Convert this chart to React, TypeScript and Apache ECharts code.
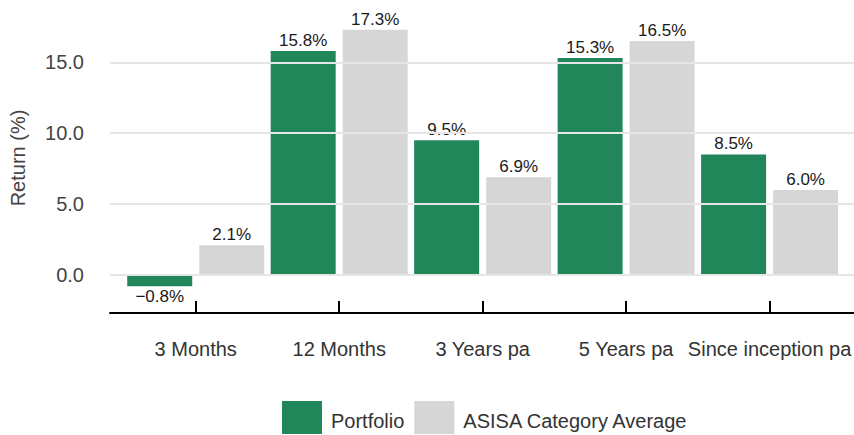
import React, { useEffect, useRef } from "react";
import * as echarts from "echarts";

const categories = ["3 Months", "12 Months", "3 Years pa", "5 Years pa", "Since inception pa"];
const portfolio = [-0.8, 15.8, 9.5, 15.3, 8.5];
const asisa = [2.1, 17.3, 6.9, 16.5, 6.0];
const yTicks = [0, 5, 10, 15];
const seriesNames = ["Portfolio", "ASISA Category Average"];

const Y_MIN = -2.68;
const Y_MAX = 19.18;
const FONT = "'Liberation Sans', Arial, Helvetica, sans-serif";
const GREEN = "#21865a";
const GREY = "#d6d6d6";

const fmt = (v: number) => (v < 0 ? "\u2212" + Math.abs(v).toFixed(1) : v.toFixed(1)) + "%";

const toData = (arr: number[]) =>
  arr.map((v) => ({
    value: v,
    label: { position: v < 0 ? "bottom" : "top" },
  }));

export default function App() {
  const ref = useRef<HTMLDivElement>(null);
  useEffect(() => {
    document.body.style.margin = "0";
    if (!ref.current) return;
    const chart = echarts.init(ref.current, undefined, { renderer: "svg" });
    const barLabel = {
      show: true,
      formatter: (p: any) => fmt(p.value),
      color: "#1a1a1a",
      fontSize: 17,
      fontFamily: FONT,
      distance: 2,
    };
    chart.setOption({
      animation: false,
      textStyle: { fontFamily: FONT },
      grid: [
        { left: 124, right: 9.5, top: 3, bottom: 122 },
        { left: 109, right: 0, top: 3, bottom: 122 },
      ],
      legend: {
        data: seriesNames,
        left: 282,
        top: 401,
        padding: 0,
        itemWidth: 40,
        itemHeight: 33,
        itemGap: 10,
        icon: "rect",
        formatter: "{a|{name}}",
        textStyle: {
          fontSize: 20,
          color: "#333",
          fontFamily: FONT,
          rich: { a: { fontSize: 20, color: "#333", fontFamily: FONT, padding: [6, 0, 0, 4] } },
        },
      },
      xAxis: [
        {
          type: "category",
          gridIndex: 0,
          data: categories,
          axisLine: { show: false, onZero: false },
          axisTick: { show: true, inside: true, length: 12, alignWithLabel: true, lineStyle: { color: "#000", width: 2 } },
          axisLabel: { interval: 0, margin: 26, fontSize: 20, color: "#333", fontFamily: FONT },
          splitLine: { show: false },
        },
        {
          type: "value",
          gridIndex: 1,
          min: 0,
          max: 1,
          axisLine: { show: true, onZero: false, lineStyle: { color: "#000", width: 2 } },
          axisTick: { show: false },
          axisLabel: { show: false },
          splitLine: { show: false },
        },
      ],
      yAxis: [
        {
          type: "value",
          gridIndex: 0,
          min: Y_MIN,
          max: Y_MAX,
          show: false,
          splitLine: { show: false },
        },
        {
          type: "value",
          gridIndex: 1,
          min: Y_MIN,
          max: Y_MAX,
          name: "Return (%)",
          nameLocation: "middle",
          nameGap: 82,
          nameTextStyle: { fontSize: 20, color: "#444", fontFamily: FONT },
          axisLine: { show: false },
          axisTick: { show: false },
          splitLine: { show: false },
          axisLabel: {
            customValues: yTicks,
            formatter: (v: number) => v.toFixed(1),
            fontSize: 20,
            color: "#444",
            margin: 26,
            fontFamily: FONT,
          },
        },
      ],
      series: [
        {
          type: "line",
          xAxisIndex: 1,
          yAxisIndex: 1,
          data: [],
          z: 1,
          silent: true,
          markLine: {
            silent: true,
            symbol: "none",
            label: { show: false },
            lineStyle: { color: "#e6e6e8", width: 2, type: "solid" },
            emphasis: { disabled: true },
            data: yTicks.map((t) => ({ yAxis: t })),
          },
        },
        {
          name: seriesNames[0],
          type: "bar",
          xAxisIndex: 0,
          yAxisIndex: 0,
          data: toData(portfolio),
          barWidth: 65,
          barGap: "10.8%",
          itemStyle: { color: GREEN },
          label: barLabel,
          z: 3,
        },
        {
          name: seriesNames[1],
          type: "bar",
          xAxisIndex: 0,
          yAxisIndex: 0,
          data: toData(asisa),
          barWidth: 65,
          barGap: "10.8%",
          itemStyle: { color: GREY },
          label: barLabel,
          z: 3,
        },
      ],
    });
    return () => chart.dispose();
  }, []);
  return <div ref={ref} style={{ width: 854, height: 435 }} />;
}
